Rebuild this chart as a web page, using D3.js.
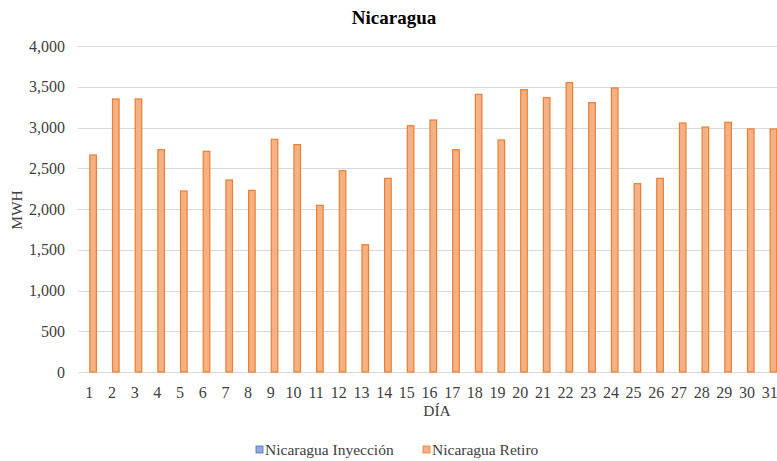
<!DOCTYPE html>
<html>
<head>
<meta charset="utf-8">
<script src="https://cdn.jsdelivr.net/npm/d3@7"></script>
</head>
<body style="margin:0">
<script>
// Chart data
var days = d3.range(1, 32).map(String);
var seriesNames = ["Nicaragua Inyección", "Nicaragua Retiro"];
var inyeccion = days.map(function() { return 0; });
var retiro = [2663, 3350, 3350, 2728, 2221, 2708, 2356, 2229, 2855, 2790,
              2045, 2470, 1562, 2376, 3022, 3092, 2728, 3407, 2847, 3464,
              3366, 3550, 3305, 3485, 2311, 2376, 3055, 3006, 3064, 2982, 2982];
var yTicks = [0, 500, 1000, 1500, 2000, 2500, 3000, 3500, 4000];

var width = 777;
var height = 461;
var serif = "'Liberation Serif'";

var svg = d3.select("body").append("svg")
    .attr("width", width)
    .attr("height", height)
    .style("font-family", serif);

// plot area runs a little past the right edge, as in the source picture
var plot = {left: 78, right: 781, top: 46, bottom: 372};

var x = d3.scaleBand()
    .domain(days)
    .range([plot.left, plot.right])
    .paddingInner(0)
    .paddingOuter(0);

// two bars per day, Excel style gap
var xSub = d3.scaleBand()
    .domain(seriesNames)
    .range([0, x.bandwidth()])
    .paddingOuter(0.5)
    .paddingInner(0);

var y = d3.scaleLinear()
    .domain([0, 4000])
    .range([plot.bottom, plot.top]);

// grid lines
svg.append("g")
  .selectAll("line")
  .data(yTicks)
  .enter().append("line")
    .attr("x1", plot.left)
    .attr("x2", plot.right)
    .attr("y1", function(d) { return Math.round(y(d)) + 0.5; })
    .attr("y2", function(d) { return Math.round(y(d)) + 0.5; })
    .attr("stroke", "#d9d9d9")
    .attr("stroke-width", 1);

// y axis labels
var yAxis = svg.append("g")
    .attr("transform", "translate(" + (plot.left - 13) + ",0)")
    .call(d3.axisLeft(y).tickValues(yTicks).tickFormat(d3.format(",")).tickSize(0));
yAxis.attr("font-family", null).attr("font-size", null);
yAxis.select(".domain").remove();
yAxis.selectAll("text")
    .attr("x", 0)
    .style("font-family", serif)
    .style("font-size", "16px")
    .attr("fill", "#404040");

// x axis labels
var xAxis = svg.append("g")
    .attr("transform", "translate(0," + (plot.bottom + 12) + ")")
    .call(d3.axisBottom(x).tickSize(0));
xAxis.attr("font-family", null).attr("font-size", null);
xAxis.select(".domain").remove();
xAxis.selectAll("text")
    .attr("dy", "0.71em")
    .style("font-family", serif)
    .style("font-size", "16px")
    .attr("fill", "#404040");

// bars
var colors = {"Nicaragua Inyección": {fill: "#8faadc", stroke: "#4472c4"},
              "Nicaragua Retiro": {fill: "#f4b183", stroke: "#ed7d31"}};

var seriesData = [inyeccion, retiro];
seriesNames.forEach(function(name, s) {
  svg.append("g")
    .selectAll("rect")
    .data(seriesData[s])
    .enter().append("rect")
      .attr("x", function(d, i) { return x(days[i]) + xSub(name) + 0.5; })
      .attr("y", function(d) { return y(d); })
      .attr("width", xSub.bandwidth() - 1)
      .attr("height", function(d) { return y(0) - y(d); })
      .attr("fill", colors[name].fill)
      .attr("stroke", colors[name].stroke)
      .attr("stroke-width", 1.2)
      .style("display", function(d) { return d > 0 ? null : "none"; });
});

// title
svg.append("text")
    .attr("x", 394)
    .attr("y", 24)
    .attr("text-anchor", "middle")
    .style("font-family", serif)
    .style("font-size", "19px")
    .style("font-weight", "bold")
    .attr("fill", "#000")
    .text("Nicaragua");

// axis titles
svg.append("text")
    .attr("transform", "translate(22,210) rotate(-90)")
    .attr("text-anchor", "middle")
    .style("font-family", serif)
    .style("font-size", "15.5px")
    .attr("fill", "#404040")
    .text("MWH");

svg.append("text")
    .attr("x", 437)
    .attr("y", 416)
    .attr("text-anchor", "middle")
    .style("font-family", serif)
    .style("font-size", "15.5px")
    .attr("fill", "#404040")
    .text("DÍA");

// legend
var legendX = [256, 423];
var legend = svg.append("g");
seriesNames.forEach(function(name, i) {
  legend.append("rect")
      .attr("x", legendX[i])
      .attr("y", 446)
      .attr("width", 7)
      .attr("height", 7)
      .attr("fill", colors[name].fill)
      .attr("stroke", colors[name].stroke)
      .attr("stroke-width", 0.8);
  legend.append("text")
      .attr("x", legendX[i] + 9)
      .attr("y", 455)
      .style("font-family", serif)
      .style("font-size", "15.5px")
      .attr("fill", "#404040")
      .text(name);
});
</script>
</body>
</html>
